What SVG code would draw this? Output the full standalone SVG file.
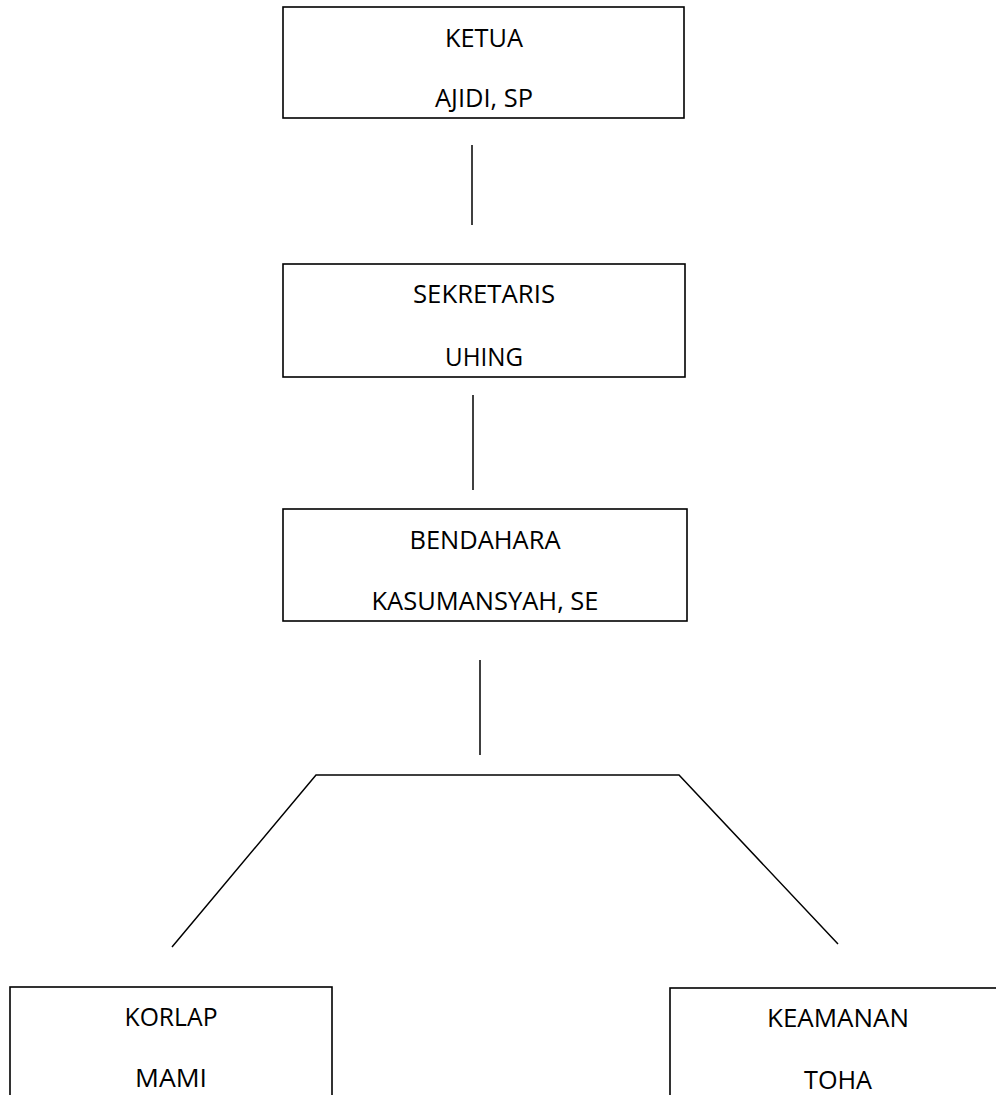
<svg xmlns="http://www.w3.org/2000/svg" width="996" height="1095" viewBox="0 0 996 1095">
<style>
.box{fill:#fff;stroke:#000;stroke-width:1.6}
.t{font-family:"Open Sans","Liberation Sans",sans-serif;font-size:26px;fill:#000;text-anchor:middle}
.c{stroke:#000;stroke-width:1.5;fill:none}
</style>
<rect width="996" height="1095" fill="#fff"/>
<g id="connectors">
<line class="c" x1="472" y1="145" x2="472" y2="225"/>
<line class="c" x1="473" y1="395" x2="473" y2="490"/>
<line class="c" x1="480" y1="660" x2="480" y2="755"/>
<polyline class="c" points="172,947 316,775 679,775 838,944"/>
</g>
<g id="ketua">
<rect class="box" x="283" y="7" width="401" height="111"/>
<text class="t" x="484" y="47" textLength="78" lengthAdjust="spacingAndGlyphs">KETUA</text>
<text class="t" x="484" y="107" textLength="98" lengthAdjust="spacingAndGlyphs">AJIDI, SP</text>
</g>
<g id="sekretaris">
<rect class="box" x="283" y="264" width="402" height="113"/>
<text class="t" x="484" y="303" textLength="142" lengthAdjust="spacingAndGlyphs">SEKRETARIS</text>
<text class="t" x="484" y="366" textLength="78" lengthAdjust="spacingAndGlyphs">UHING</text>
</g>
<g id="bendahara">
<rect class="box" x="283" y="509" width="404" height="112"/>
<text class="t" x="485" y="549" textLength="151" lengthAdjust="spacingAndGlyphs">BENDAHARA</text>
<text class="t" x="485" y="610" textLength="227" lengthAdjust="spacingAndGlyphs">KASUMANSYAH, SE</text>
</g>
<g id="korlap">
<rect class="box" x="10" y="987" width="322" height="120"/>
<text class="t" x="171" y="1026" textLength="93" lengthAdjust="spacingAndGlyphs">KORLAP</text>
<text class="t" x="171" y="1087" textLength="72" lengthAdjust="spacingAndGlyphs">MAMI</text>
</g>
<g id="keamanan">
<rect class="box" x="670" y="988" width="340" height="120"/>
<text class="t" x="838" y="1027" textLength="142" lengthAdjust="spacingAndGlyphs">KEAMANAN</text>
<text class="t" x="838" y="1089" textLength="68" lengthAdjust="spacingAndGlyphs">TOHA</text>
</g>
</svg>
